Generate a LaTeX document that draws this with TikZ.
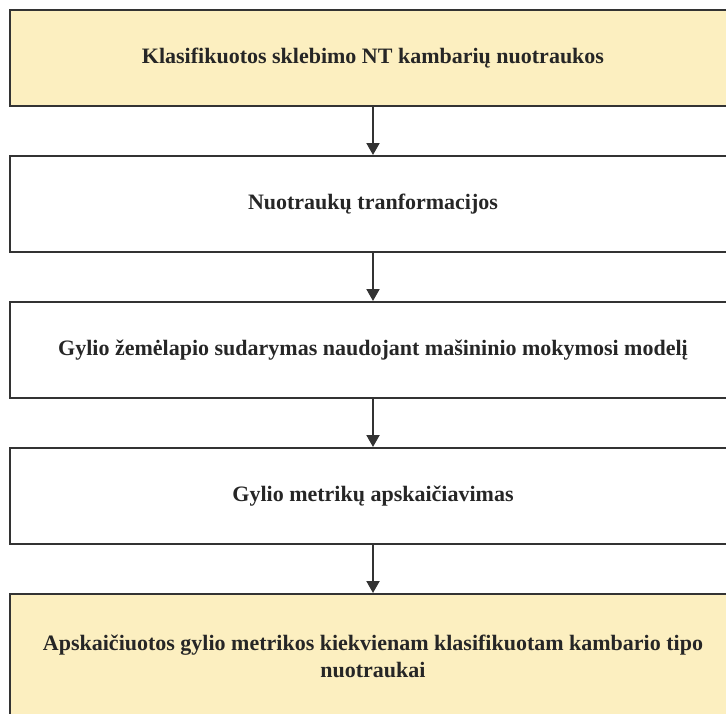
\documentclass[tikz,border=0pt]{standalone}
\usepackage{fontspec}
\setmainfont{Liberation Serif}
\usetikzlibrary{positioning,arrows.meta}

\definecolor{boxfill}{HTML}{FCEFC0}
\definecolor{boxline}{HTML}{333333}

\tikzset{
  stepbox/.style = {draw = boxline, line width = 2pt, minimum width = 726pt,
    minimum height = 96pt, align = center, text = black!85,
    font = \fontsize{22}{27}\selectfont\bfseries},
  flow/.style = {draw = boxline, line width = 2pt, -{Triangle[length=12pt,width=13pt]}}
}

\begin{document}
\begin{tikzpicture}
    \useasboundingbox (0pt,0pt) rectangle (726pt,-713pt);

    \node[stepbox, fill = boxfill] (photos) at (373pt,-58pt) {Klasifikuotos sklebimo NT kambarių nuotraukos};
    \node[stepbox, below = 48pt of photos] (transform) {Nuotraukų tranformacijos};
    \node[stepbox, below = 48pt of transform] (depthmap) {Gylio žemėlapio sudarymas naudojant mašininio mokymosi modelį};
    \node[stepbox, below = 48pt of depthmap] (metrics) {Gylio metrikų apskaičiavimas};
    \node[stepbox, fill = boxfill, minimum height = 124pt, below = 48pt of metrics] (result) {Apskaičiuotos gylio metrikos kiekvienam klasifikuotam kambario tipo\\nuotraukai};

    \draw[flow] (photos) -- (transform);
    \draw[flow] (transform) -- (depthmap);
    \draw[flow] (depthmap) -- (metrics);
    \draw[flow] (metrics) -- (result);
\end{tikzpicture}
\end{document}
